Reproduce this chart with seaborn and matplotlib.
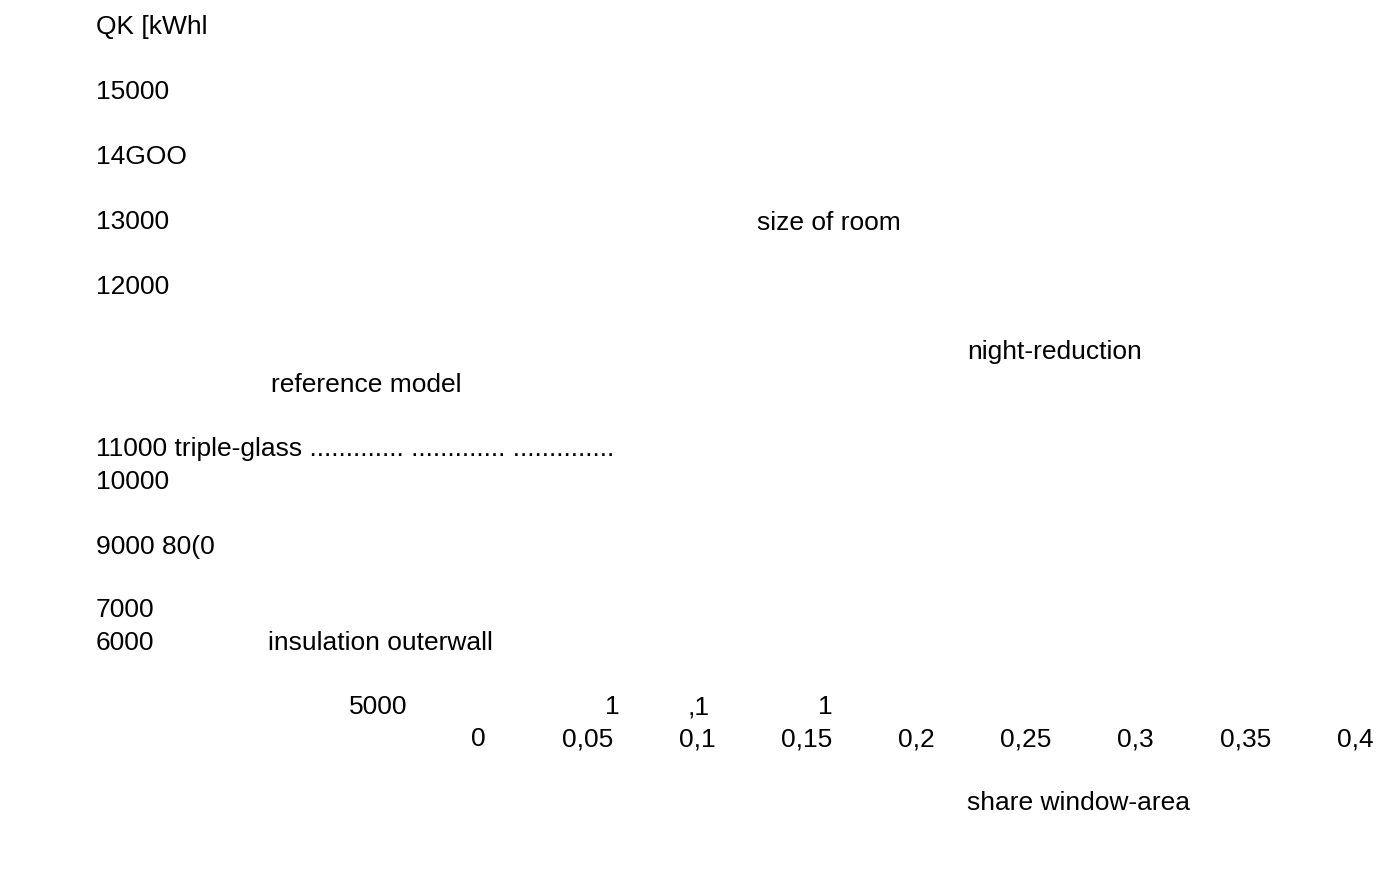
import matplotlib
matplotlib.use("Agg")
import matplotlib.pyplot as plt
import matplotlib.transforms as mtransforms
import seaborn as sns

# x axis: share of window area
x_ticks = [0, 0.05, 0.1, 0.15, 0.2, 0.25, 0.3, 0.35, 0.4]
x_tick_labels = ["0", "0,05", "0,1", "0,15", "0,2", "0,25", "0,3", "0,35", "0,4"]
x_title = "share window-area"

# y axis labels as they appear in the scan
y_title = "QK [kWhl"
y_tick_labels = ["15000", "14GOO", "13000", "12000",
                 "11000 triple-glass ............. ............. ..............",
                 "10000", "9000 80(0", "7000", "6000"]
y_tick_rows = [90, 155, 220, 285, 447, 480, 545, 608, 641]

# curve annotations
annotations = ["size of room", "night-reduction", "reference model",
               "insulation outerwall", "5000", "1", ",1", "1"]
annotation_xy = [(757, 221), (967, 350), (271, 383), (268, 641),
                 (349, 705), (605, 705), (688, 705), (818, 705)]

W, H = 1393, 873

sns.set_theme(style="white")
plt.rcParams["font.family"] = ["Liberation Sans", "DejaVu Sans"]

fig = plt.figure(figsize=(W / 100, H / 100), dpi=100)
ax = fig.add_axes([0, 0, 1, 1])
# scale so that 0 -> 478 px and 0.4 -> 1355 px
scale = (1355 - 478) / 0.4
ax.set_xlim(-478 / scale, (W - 478) / scale)
ax.set_ylim(0, 1)
ax.axis("off")

fs = 19
col = "#000000"
dy = 2  # small nudge down to match the scan baseline


def px(x, y):
    return x / W, 1 - (y + dy) / H


trans = mtransforms.blended_transform_factory(ax.transData, ax.transAxes)
for t, lab in zip(x_ticks, x_tick_labels):
    ax.text(t, 1 - (737 + dy) / H, lab, transform=trans, ha="center", va="center",
            fontsize=fs, color=col)

fig.text(*px(967, 801), x_title, ha="left", va="center", fontsize=fs, color=col)
fig.text(*px(96, 25), y_title, ha="left", va="center", fontsize=fs, color=col)

for lab, row in zip(y_tick_labels, y_tick_rows):
    fig.text(*px(96, row), lab, ha="left", va="center", fontsize=fs, color=col)

for lab, (x, y) in zip(annotations, annotation_xy):
    fig.text(*px(x, y), lab, ha="left", va="center", fontsize=fs, color=col)

fig.savefig("out.png", dpi=100, facecolor="white")
